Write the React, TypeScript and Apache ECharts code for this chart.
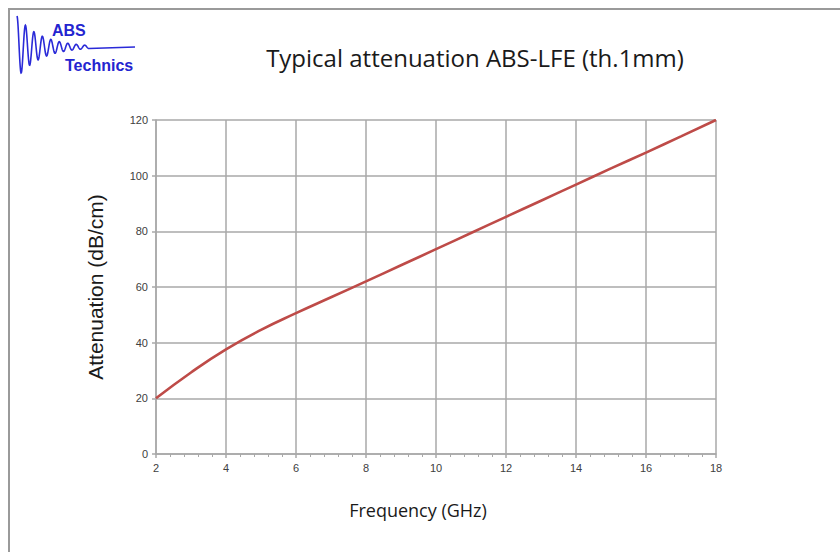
import React, { useEffect, useRef } from "react";
import * as echarts from "echarts";

const frequency = [2, 3, 4, 5, 6, 7, 8, 9, 10, 11, 12, 13, 14, 15, 16, 17, 18];
const attenuation = [20, 29.3, 37.6, 44.6, 50.6, 56.3, 62.0, 67.8, 73.6, 79.4, 85.2, 91.0, 96.8, 102.6, 108.3, 114.1, 120];
const titleText = "Typical attenuation ABS-LFE (th.1mm)";
const xName = "Frequency (GHz)";
const yName = "Attenuation (dB/cm)";

function logoPoints(): number[][] {
  const pts: number[][] = [];
  const x0 = 17;
  const yc = 47;
  for (let i = 0; i <= 300; i++) {
    const t = i / 300;
    const x = x0 + t * 72;
    const amp = 31 * Math.exp(-3.0 * t);
    const y = yc - amp * Math.cos(t * Math.PI * 2 * 8.5);
    pts.push([x, y]);
  }
  pts.push([135, yc]);
  return pts;
}

export default function App() {
  const ref = useRef<HTMLDivElement>(null);
  useEffect(() => {
    if (!ref.current) return;
    const chart = echarts.init(ref.current, null, { renderer: "svg" });
    const gridColor = "#a8a8a8";
    chart.setOption({
      animation: false,
      backgroundColor: "#ffffff",
      grid: { left: 156, right: 124, top: 120, bottom: 98 },
      xAxis: {
        type: "value",
        min: 2,
        max: 18,
        interval: 2,
        axisLine: { show: true, lineStyle: { color: gridColor, width: 1.5 } },
        axisTick: { show: true, inside: false, length: 4, lineStyle: { color: gridColor, width: 1.5 } },
        minorTick: { show: true, splitNumber: 5, length: 3, lineStyle: { color: gridColor, width: 1 } },
        splitLine: { show: true, lineStyle: { color: gridColor, width: 1.5 } },
        axisLabel: { color: "#404040", fontSize: 11, fontFamily: "Liberation Sans Narrow, Liberation Sans", margin: 8 },
      },
      yAxis: {
        type: "value",
        min: 0,
        max: 120,
        interval: 20,
        name: yName,
        nameLocation: "middle",
        nameGap: 50,
        nameTextStyle: { color: "#1a1a1a", fontSize: 21, fontFamily: "Liberation Sans" },
        axisLine: { show: true, lineStyle: { color: gridColor, width: 1.5 } },
        axisTick: { show: true, length: 4, lineStyle: { color: gridColor, width: 1.5 } },
        splitLine: { show: true, lineStyle: { color: gridColor, width: 1.5 } },
        axisLabel: { color: "#404040", fontSize: 11, fontFamily: "Liberation Sans", margin: 8 },
      },
      series: [
        {
          type: "line",
          data: frequency.map((f, i) => [f, attenuation[i]]),
          smooth: 0.5,
          symbol: "none",
          lineStyle: { color: "#be4b48", width: 2.6 },
        },
      ],
      graphic: [
        { type: "line", shape: { x1: 8, y1: 9, x2: 840, y2: 9 }, style: { stroke: "#9a9a9a", lineWidth: 2 } },
        { type: "line", shape: { x1: 9, y1: 8, x2: 9, y2: 552 }, style: { stroke: "#9a9a9a", lineWidth: 2 } },
        { type: "polyline", shape: { points: logoPoints() }, style: { stroke: "#2a2ad8", lineWidth: 1.6, fill: null } },
        { type: "text", x: 52, y: 30, style: { text: "ABS", fill: "#2424d0", font: "bold 16px Liberation Sans", textVerticalAlign: "middle" } },
        { type: "text", x: 65, y: 65, style: { text: "Technics", fill: "#2424d0", font: "bold 16px Liberation Sans", textVerticalAlign: "middle" } },
        { type: "text", x: 475, y: 57, style: { text: titleText, fill: "#1a1a1a", font: "24px Open Sans", textAlign: "center", textVerticalAlign: "middle" } },
        { type: "text", x: 418, y: 510, style: { text: xName, fill: "#1a1a1a", font: "18px Open Sans", textAlign: "center", textVerticalAlign: "middle" } },
      ],
    });
    return () => chart.dispose();
  }, []);
  return <div ref={ref} style={{ width: 840, height: 552, position: "absolute", left: 0, top: 0 }} />;
}
